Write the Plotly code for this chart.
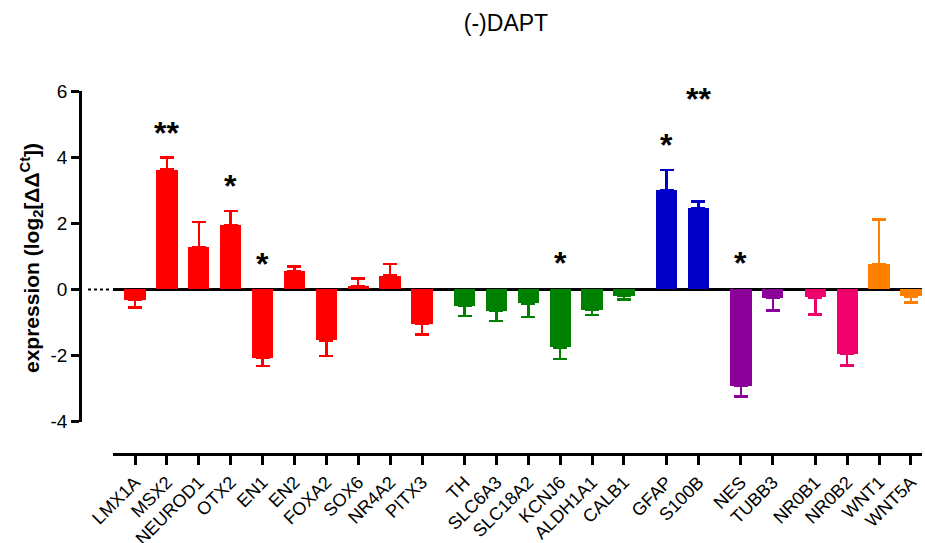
import plotly.graph_objects as go

# ---- data ----
groups = [
    {"genes": ["LMX1A", "MSX2", "NEUROD1", "OTX2", "EN1", "EN2", "FOXA2", "SOX6", "NR4A2", "PITX3"],
     "values": [-0.32, 3.62, 1.28, 1.95, -2.06, 0.55, -1.54, 0.10, 0.42, -1.05],
     "errors": [0.23, 0.37, 0.76, 0.42, 0.26, 0.15, 0.48, 0.23, 0.35, 0.31],
     "color": "#FF0000"},
    {"genes": ["TH", "SLC6A3", "SLC18A2", "KCNJ6", "ALDH1A1", "CALB1"],
     "values": [-0.50, -0.64, -0.42, -1.75, -0.61, -0.20],
     "errors": [0.31, 0.32, 0.41, 0.35, 0.16, 0.10],
     "color": "#008000"},
    {"genes": ["GFAP", "S100B"],
     "values": [3.01, 2.45],
     "errors": [0.60, 0.21],
     "color": "#0000C8"},
    {"genes": ["NES", "TUBB3"],
     "values": [-2.92, -0.26],
     "errors": [0.32, 0.37],
     "color": "#8B0099"},
    {"genes": ["NR0B1", "NR0B2"],
     "values": [-0.24, -1.95],
     "errors": [0.52, 0.35],
     "color": "#F0006A",
     "cluster": 4},
    {"genes": ["WNT1", "WNT5A"],
     "values": [0.77, -0.21],
     "errors": [1.35, 0.19],
     "color": "#FF8000",
     "cluster": 4},
]
# significance marks: gene -> (label, y level of the glyph centre)
sig_genes = ["MSX2", "OTX2", "EN1", "KCNJ6", "GFAP", "S100B", "NES"]
sig_labels = ["**", "*", "*", "*", "*", "**", "*"]
sig_levels = [4.95, 3.33, 0.97, 1.0, 4.58, 5.97, 1.0]

y_tickvals = [-4, -2, 0, 2, 4, 6]
y_ticktext = ["-4", "-2", "0", "2", "4", "6"]

GAP = 1 / 3  # extra space between gene clusters

fig = go.Figure()
pos = {}
tickvals, ticktext = [], []
idx = 0
for gi, g in enumerate(groups):
    cluster = g.get("cluster", gi)
    xs = [idx + k + cluster * GAP for k in range(len(g["genes"]))]
    idx += len(g["genes"])
    for gene, x in zip(g["genes"], xs):
        pos[gene] = x
    tickvals += xs
    ticktext += g["genes"]
    plus = [e if v >= 0 else 0 for v, e in zip(g["values"], g["errors"])]
    minus = [e if v < 0 else 0 for v, e in zip(g["values"], g["errors"])]
    fig.add_trace(go.Bar(
        x=xs, y=g["values"], width=0.67,
        marker=dict(color=g["color"], line=dict(width=0)),
        error_y=dict(type="data", symmetric=False, array=plus, arrayminus=minus,
                     color=g["color"], thickness=2.5, width=7),
        showlegend=False, hoverinfo="skip",
    ))

for gene, lab, lv in zip(sig_genes, sig_labels, sig_levels):
    fig.add_annotation(x=pos[gene], y=lv, text=f"<b>{lab}</b>", showarrow=False,
                       xref="x", yref="y", yanchor="middle", yshift=-7,
                       font=dict(size=32, color="black", family="Liberation Sans, Arial"))

W, H = 925, 543
L, R, T, B = 80, 3, 91, 89
plot_w = W - L - R
plot_h = H - T - B
x_start_px = 113
x_dom0 = (x_start_px - L) / plot_w
unit = 31.89
first_tick_px = 135
x_lo = (x_start_px - first_tick_px) / unit
x_hi = (W - R - first_tick_px) / unit
y_dom0 = (454 - 421.7) / plot_h

fig.update_layout(
    width=W, height=H,
    margin=dict(l=L, r=R, t=T, b=B, autoexpand=False),
    plot_bgcolor="white", paper_bgcolor="white",
    font=dict(family="Liberation Sans, Arial", color="black"),
    title=dict(text="(-)DAPT", x=0.547, xanchor="center", y=0.972, yanchor="top",
               font=dict(size=23, family="Liberation Sans, Arial", color="black")),
    bargap=0,
    xaxis=dict(domain=[x_dom0, 1], range=[x_lo, x_hi], anchor="free", position=0,
               automargin=False,
               tickvals=tickvals, ticktext=ticktext, tickangle=-45,
               ticks="outside", ticklen=9, tickwidth=2.5, tickcolor="black",
               showline=True, linewidth=2.5, linecolor="black",
               showgrid=False, zeroline=False,
               tickfont=dict(size=18, family="Liberation Sans, Arial")),
    yaxis=dict(domain=[y_dom0, 1], range=[-4, 6], anchor="free", position=0,
               automargin=False,
               tickvals=y_tickvals, ticktext=y_ticktext,
               ticks="outside", ticklen=8, tickwidth=2.5, tickcolor="black",
               showline=True, linewidth=2.5, linecolor="black",
               showgrid=False, zeroline=True, zerolinecolor="black", zerolinewidth=2.5,
               tickfont=dict(size=19, family="Liberation Sans, Arial")),
)

# dotted part of the zero line between the y axis and the first bar
fig.add_shape(type="line", xref="paper", yref="y",
              x0=8 / plot_w, x1=(x_start_px - 3 - L) / plot_w, y0=0, y1=0,
              line=dict(color="black", width=2, dash="dot"))

fig.add_annotation(
    text="<b>expression (log<sub>2</sub>[ΔΔ<sup>Ct</sup>])</b>",
    xref="paper", yref="paper", x=(31 - L) / plot_w, y=(H - B - 258) / plot_h,
    textangle=-90, showarrow=False, xanchor="center", yanchor="middle",
    font=dict(size=21, family="Liberation Sans, Arial", color="black"))

fig.write_html("out.html", config={"displayModeBar": False},
               post_script="document.body.style.margin='0px';")
